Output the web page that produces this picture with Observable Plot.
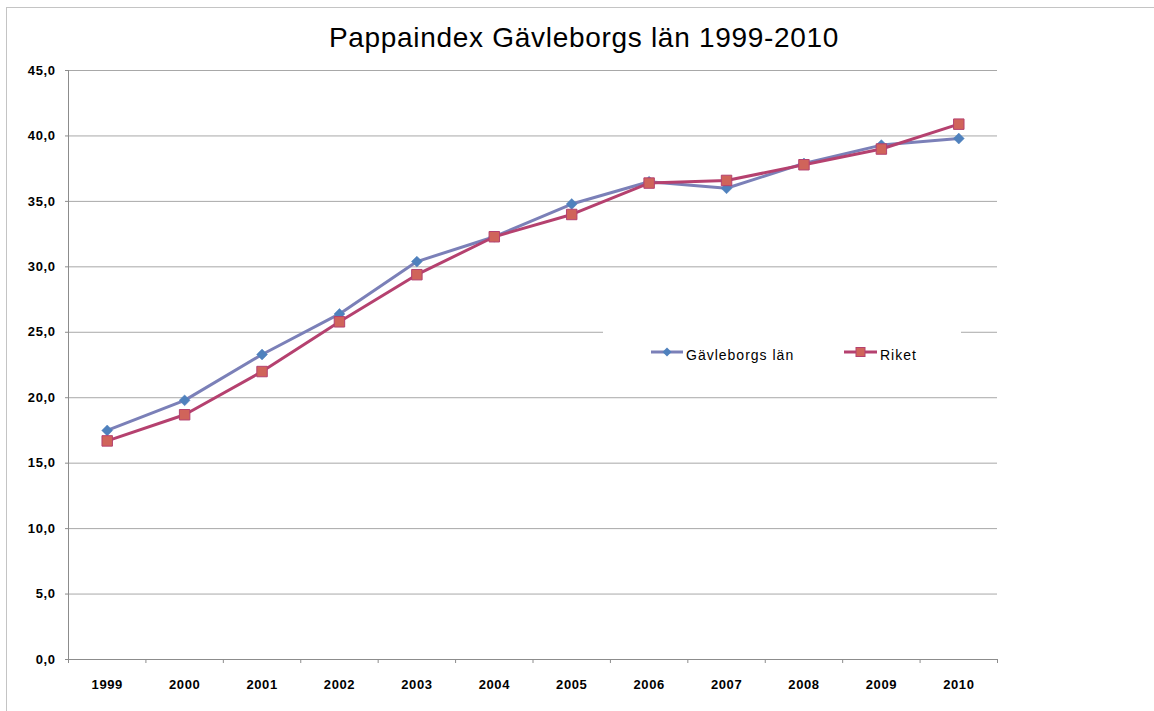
<!DOCTYPE html>
<html>
<head>
<meta charset="utf-8">
<script src="https://cdn.jsdelivr.net/npm/d3@7"></script>
<script src="https://cdn.jsdelivr.net/npm/@observablehq/plot@0.6"></script>
<style>
  html, body { margin: 0; padding: 0; background: #fff; }
  #wrap { position: relative; width: 1154px; height: 711px; overflow: hidden; font-family: "Liberation Sans", Arial, Helvetica, sans-serif; }
  #frame { position: absolute; left: 6px; top: 7px; width: 1300px; height: 900px; border-top: 1px solid #c4c4c4; border-left: 1px solid #c4c4c4; }
  #title { position: absolute; left: 0; top: 24px; width: 1154px; padding-left: 14px; box-sizing: border-box; text-align: center; font-size: 28px; line-height: 28px; letter-spacing: 0.7px; color: #000; white-space: nowrap; }
  #chart { position: absolute; left: 0; top: 60px; }
  #legend { position: absolute; left: 603px; top: 329px; width: 358px; height: 52px; background: #fff; }
  .lg { position: absolute; top: 19px; font-size: 14px; line-height: 14px; letter-spacing: 1px; color: #000; white-space: nowrap; }
  .sym { position: absolute; top: 17px; }
</style>
</head>
<body>
<div id="wrap">
  <div id="frame"></div>
  <div id="title"></div>
  <div id="chart"></div>
  <div id="legend"></div>
</div>
<script>
const titleText = "Pappaindex Gävleborgs län 1999-2010";
const years = [1999, 2000, 2001, 2002, 2003, 2004, 2005, 2006, 2007, 2008, 2009, 2010];
const seriesNames = ["Gävleborgs län", "Riket"];
const gavleborg = [17.5, 19.8, 23.3, 26.4, 30.4, 32.3, 34.8, 36.5, 36.0, 37.9, 39.3, 39.8];
const riket = [16.7, 18.7, 22.0, 25.8, 29.4, 32.3, 34.0, 36.4, 36.6, 37.8, 39.0, 40.9];
const yTicks = [0, 5, 10, 15, 20, 25, 30, 35, 40, 45];

const gRows = years.map((y, i) => ({year: y, value: gavleborg[i]}));
const rRows = years.map((y, i) => ({year: y, value: riket[i]}));
const bounds = [years[0] - 0.5, ...years.map(y => y + 0.5)];

const gLine = "#7b80b8", gMark = "#4f81bd";
const rLine = "#b5416f", rMark = "#d0645a";

document.getElementById("title").textContent = titleText;

const plot = Plot.plot({
  width: 1154,
  height: 651,
  marginTop: 10,
  marginBottom: 52,
  marginLeft: 68,
  marginRight: 157,
  x: {domain: [years[0] - 0.5, years[years.length - 1] + 0.5]},
  y: {domain: [0, 45]},
  style: {fontFamily: "'Liberation Sans', Arial, Helvetica, sans-serif", fontSize: "13px", color: "#000", background: "transparent", letterSpacing: "0.6px"},
  marks: [
    Plot.gridY(yTicks, {stroke: "#a8a8a8", strokeOpacity: 1}),
    Plot.ruleX([bounds[0]], {stroke: "#8c8c8c"}),
    Plot.ruleY([0], {stroke: "#8c8c8c"}),
    Plot.axisY({ticks: yTicks, tickSize: 3, tickPadding: 10, stroke: "#8c8c8c", fill: "#000", label: null, fontWeight: "bold", fontSize: 13,
      tickFormat: d => d.toFixed(1).replace(".", ",")}),
    Plot.axisX({ticks: bounds, tickSize: 4, tickFormat: () => "", stroke: "#8c8c8c", label: null}),
    Plot.axisX({ticks: years, tickSize: 0, tickPadding: 20, fill: "#000", label: null, fontWeight: "bold", fontSize: 13, tickFormat: d => String(d)}),
    Plot.line(gRows, {x: "year", y: "value", stroke: gLine, strokeWidth: 3}),
    Plot.dot(gRows, {x: "year", y: "value", symbol: "diamond2", r: 4.9, fill: gMark, stroke: gMark, strokeWidth: 0.5}),
    Plot.line(rRows, {x: "year", y: "value", stroke: rLine, strokeWidth: 3}),
    Plot.dot(rRows, {x: "year", y: "value", symbol: "square", r: 5.9, fill: rMark, stroke: rLine, strokeWidth: 1})
  ]
});
document.getElementById("chart").appendChild(plot);

// legend
const lg = document.getElementById("legend");
lg.innerHTML =
  `<svg class="sym" style="left:48px" width="34" height="12"><line x1="0" y1="6" x2="32" y2="6" stroke="${gLine}" stroke-width="3"/><path d="M16,1.5 L20.5,6 L16,10.5 L11.5,6Z" fill="${gMark}"/></svg>` +
  `<span class="lg" style="left:83px">${seriesNames[0]}</span>` +
  `<svg class="sym" style="left:241px" width="35" height="12"><line x1="0" y1="6" x2="33" y2="6" stroke="${rLine}" stroke-width="3"/><rect x="12" y="1.5" width="9" height="9" fill="${rMark}" stroke="${rLine}" stroke-width="1"/></svg>` +
  `<span class="lg" style="left:277px">${seriesNames[1]}</span>`;
</script>
</body>
</html>
